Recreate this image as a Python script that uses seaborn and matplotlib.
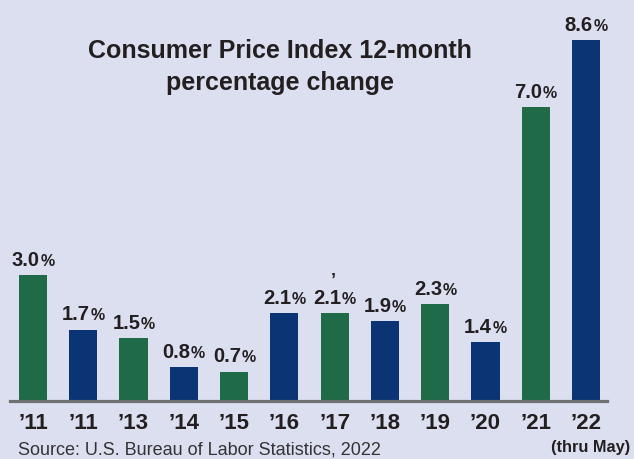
import matplotlib
matplotlib.use("Agg")
import matplotlib.pyplot as plt
import seaborn as sns
import pandas as pd
from matplotlib.offsetbox import TextArea, HPacker, AnnotationBbox

years = ["\u201911", "\u201911", "\u201913", "\u201914", "\u201915", "\u201916",
         "\u201917", "\u201918", "\u201919", "\u201920", "\u201921", "\u201922"]
values = [3.0, 1.7, 1.5, 0.8, 0.7, 2.1, 2.1, 1.9, 2.3, 1.4, 7.0, 8.6]
groups = ["g", "n", "g", "n", "g", "n", "g", "n", "g", "n", "g", "n"]

BG = "#dcdff0"
GREEN = "#1f6a47"
NAVY = "#0b3474"
TXT = "#231f20"

sns.set_theme(style="white")
plt.rcParams["font.family"] = ["Liberation Sans", "DejaVu Sans"]

df = pd.DataFrame({"idx": list(range(len(values))), "value": values, "grp": groups})

fig = plt.figure(figsize=(6.34, 4.60), dpi=100)
fig.patch.set_facecolor(BG)
ax = fig.add_axes([10 / 634, 58 / 460, 597 / 634, 402 / 460])
ax.set_facecolor(BG)

sns.barplot(data=df, x="idx", y="value", hue="grp", palette={"g": GREEN, "n": NAVY},
            dodge=False, width=0.56, legend=False, ax=ax, saturation=1, linewidth=0)

ax.set_xlim(-0.4575, 11.418)
ax.set_ylim(0, 402 / 42)
for s in ["top", "left", "right"]:
    ax.spines[s].set_visible(False)
ax.spines["bottom"].set_color("#707070")
ax.spines["bottom"].set_linewidth(2.3)
ax.spines["bottom"].set_zorder(5)
ax.set_yticks([])
ax.set_xlabel("")
ax.set_ylabel("")
ax.set_xticks(range(len(years)))
ax.set_xticklabels(years, fontsize=16, fontweight="bold", color=TXT)
ax.tick_params(axis="x", length=0, pad=8)

for i, v in enumerate(values):
    num = TextArea(f"{v:.1f}", textprops=dict(fontsize=14.5, fontweight="bold", color=TXT))
    pct = TextArea("%", textprops=dict(fontsize=11.5, fontweight="bold", color=TXT))
    box = HPacker(children=[num, pct], align="baseline", pad=0, sep=0.3)
    ab = AnnotationBbox(box, (i, v), xybox=(0, 4.5), xycoords="data",
                        boxcoords="offset points", box_alignment=(0.5, 0),
                        frameon=False, pad=0, annotation_clip=False)
    ax.add_artist(ab)

# stray apostrophe above the '17 label
ax.annotate("\u2019", xy=(6, values[6]), xytext=(-1, 17), textcoords="offset points",
            ha="center", va="bottom", fontsize=13, fontweight="bold", color=TXT,
            annotation_clip=False)

ax.annotate("(thru May)", xy=(11, 0), xytext=(-25.5, -33), textcoords="offset points",
            ha="left", va="center", fontsize=11.8, fontweight="bold", color=TXT,
            annotation_clip=False)

fig.text(279.5 / 634, 1 - 58 / 460, "Consumer Price Index 12-month",
         ha="center", va="baseline", fontsize=18, fontweight="bold", color=TXT)
fig.text(279.5 / 634, 1 - 90 / 460, "percentage change",
         ha="center", va="baseline", fontsize=18, fontweight="bold", color=TXT)

fig.text(18 / 634, 5 / 460, "Source: U.S. Bureau of Labor Statistics, 2022",
         ha="left", va="baseline", fontsize=13, color="#333333")

fig.savefig("out.png", dpi=100, facecolor=BG)
